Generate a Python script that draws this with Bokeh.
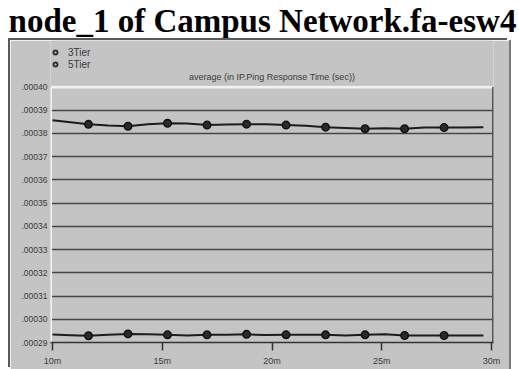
from bokeh.plotting import figure
from bokeh.layouts import column
from bokeh.models import (Div, Label, Legend, LegendItem, FixedTicker,
                          CustomJSTickFormatter)
from bokeh.embed import file_html
from bokeh.resources import INLINE

# --- data -----------------------------------------------------------------
# sample times (minutes) of the plotted markers
marker_time = [11.64, 13.44, 15.24, 17.04, 18.84, 20.64, 22.44, 24.24, 26.04, 27.84]
tier5_marker = [0.0003839, 0.0003831, 0.0003844, 0.0003836, 0.0003840,
                0.0003836, 0.0003827, 0.0003820, 0.0003820, 0.0003825]
tier3_marker = [0.0002929, 0.0002937, 0.0002933, 0.0002933, 0.0002935,
                0.0002933, 0.0002933, 0.0002933, 0.0002930, 0.0002930]

# full traces (minutes)
trace_time = [10.0, 10.82, 11.64, 12.54, 13.44, 14.34, 15.24, 16.14, 17.04,
              17.94, 18.84, 19.74, 20.64, 21.54, 22.44, 23.34, 24.24, 25.14,
              26.04, 26.94, 27.84, 28.74, 29.63]
tier5_trace = [0.0003857, 0.0003848, 0.0003839, 0.0003834, 0.0003831, 0.0003840,
               0.0003844, 0.0003843, 0.0003836, 0.0003838, 0.0003840, 0.0003839,
               0.0003836, 0.0003833, 0.0003827, 0.0003823, 0.0003820, 0.0003822,
               0.0003820, 0.0003826, 0.0003825, 0.0003826, 0.0003827]
tier3_trace = [0.0002934, 0.0002931, 0.0002929, 0.0002933, 0.0002937, 0.0002935,
               0.0002933, 0.0002930, 0.0002933, 0.0002933, 0.0002935, 0.0002932,
               0.0002933, 0.0002933, 0.0002933, 0.0002930, 0.0002933, 0.0002935,
               0.0002930, 0.0002930, 0.0002930, 0.0002930, 0.0002930]

series_names = ["3Tier", "5Tier"]
y_ticks = [0.00029, 0.00030, 0.00031, 0.00032, 0.00033, 0.00034,
           0.00035, 0.00036, 0.00037, 0.00038, 0.00039, 0.00040]
x_ticks = [10, 15, 20, 25, 30]

title_text = "node_1 of Campus Network.fa-esw4"
subtitle_text = "average (in IP.Ping Response Time (sec))"

# --- styling ----------------------------------------------------------------
PANEL = "#c4c4c4"
GRID = "#464646"
TEXT = "#3a3a3a"
LINE = "#1c1c1c"
SANS = "Liberation Sans"

# plotting window: time axis runs 10m..30m, value axis .00029...00040;
# the extra headroom above .00040 holds the legend and the caption
x_lo, x_hi = 9.909, 30.09
y_lo, y_hi, y_room = y_ticks[0], y_ticks[-1], 0.00042

p = figure(width=499, height=329, output_backend="svg", toolbar_location=None,
           title=None, x_range=(x_lo, x_hi), y_range=(y_lo, y_room),
           min_border_left=40, min_border_right=16,
           min_border_top=0, min_border_bottom=27,
           background_fill_color=PANEL, border_fill_color=PANEL,
           outline_line_color=None, margin=(0, 10, 0, 10),
           styles={"box-shadow": "-2px -2px 0 0 #5a5a5a, 2px 0 0 0 #7a7a7a"})

# axes
p.xgrid.visible = False
p.ygrid.ticker = FixedTicker(ticks=y_ticks)
p.ygrid.grid_line_color = GRID
p.ygrid.grid_line_width = 1.5

p.yaxis.ticker = FixedTicker(ticks=y_ticks)
p.yaxis.formatter = CustomJSTickFormatter(code="return tick.toFixed(5).slice(1);")
p.yaxis.major_tick_out = 0
p.yaxis.major_tick_in = 0
p.yaxis.minor_tick_line_color = None
p.yaxis.axis_line_color = None
p.yaxis.major_label_standoff = 3
p.yaxis.major_label_text_font = SANS
p.yaxis.major_label_text_font_size = "8.5px"
p.yaxis.major_label_text_color = TEXT

p.xaxis.ticker = FixedTicker(ticks=x_ticks)
p.xaxis.formatter = CustomJSTickFormatter(code="return tick + 'm';")
p.xaxis.major_tick_out = 8
p.xaxis.major_tick_in = 0
p.xaxis.major_tick_line_color = "#333333"
p.xaxis.major_tick_line_width = 1.5
p.xaxis.minor_tick_line_color = None
p.xaxis.axis_line_color = "#333333"
p.xaxis.axis_line_width = 1.5
p.xaxis.major_label_standoff = 5
p.xaxis.major_label_text_font = SANS
p.xaxis.major_label_text_font_size = "9px"
p.xaxis.major_label_text_color = TEXT

# bevelled edges of the value window: light left/top, dark right
p.segment(x0=[x_lo, x_lo], y0=[y_lo, y_hi], x1=[x_lo, x_hi], y1=[y_hi, y_hi],
          line_color="#f2f2f2", line_width=3)
p.segment(x0=[x_hi], y0=[y_lo], x1=[x_hi], y1=[y_hi],
          line_color="#555555", line_width=3)

# data
for trace, marks in ((tier3_trace, tier3_marker), (tier5_trace, tier5_marker)):
    p.line(trace_time, trace, line_color=LINE, line_width=2, line_join="round")
    p.scatter(marker_time, marks, marker="circle", size=7.5,
              fill_color="#2a2a2a", line_color="#111111", line_width=1.5)

# caption above the value window
p.add_layout(Label(x=(x_lo + x_hi) / 2, y=y_hi, text=subtitle_text,
                   y_offset=10, text_align="center", text_baseline="middle",
                   text_font=SANS, text_font_size="9px", text_color=TEXT))

# legend swatches: ring markers that never land inside the window
nan = float("nan")
r3 = p.scatter([nan], [nan], marker="circle", size=5, fill_color=PANEL,
               line_color="#333333", line_width=2)
r5 = p.scatter([nan], [nan], marker="circle", size=6.5, fill_color=PANEL,
               line_color="#333333", line_width=2)
legend = Legend(items=[LegendItem(label=series_names[0], renderers=[r3], index=0),
                       LegendItem(label=series_names[1], renderers=[r5], index=0)],
                location=(0, 272), orientation="vertical",
                margin=0, padding=0, spacing=0,
                glyph_width=10, glyph_height=12, label_height=12,
                label_standoff=8, label_text_font=SANS,
                label_text_font_size="10px", label_text_color=TEXT,
                background_fill_alpha=0, border_line_color=None)
p.add_layout(legend, "center")

header = Div(text=title_text, width=519, height=40, margin=0,
             styles={"font-family": "'Liberation Serif', serif",
                     "font-weight": "bold", "font-size": "33px",
                     "line-height": "42px", "text-align": "center",
                     "padding-left": "6px", "box-sizing": "border-box",
                     "color": "black", "white-space": "nowrap",
                     "overflow": "visible"})

layout = column(header, p, margin=0, spacing=0)
open("out.html", "w").write(file_html(layout, INLINE))
